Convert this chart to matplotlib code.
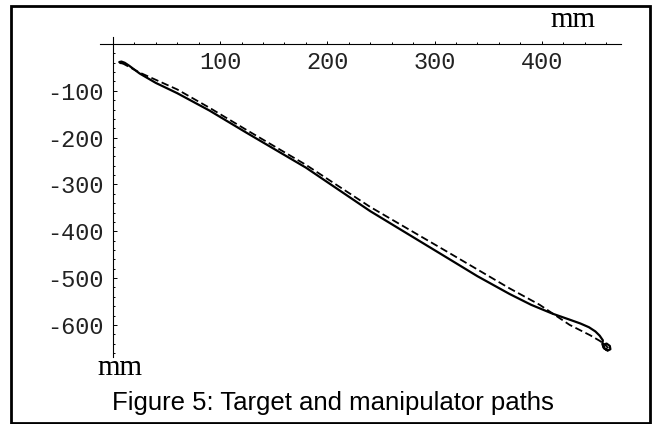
import numpy as np
import matplotlib.pyplot as plt
from matplotlib.patches import Rectangle

plt.rcParams['axes.unicode_minus'] = False

# target path (dashed), mm
target_x = [8, 25, 60, 90, 125, 180, 240, 312, 370, 398, 426, 445, 454, 459, 462]
target_y = [-40, -61, -97, -136, -184, -258, -348, -444, -522, -557, -600, -622, -634, -642, -650]

# manipulator path (solid), mm
path_x = [9, 7, 6, 8, 11, 15, 25, 40, 60, 90, 125, 180, 240, 312, 340, 370, 390, 410, 425,
          436, 444, 450, 454, 457, 456.5, 458, 461.5, 464, 463.5, 460.5, 457.5, 458, 461]
path_y = [-41, -40.5, -38.5, -37.5, -40, -46, -63, -83, -105, -142, -190, -264, -357, -457,
          -496, -534, -557, -576, -588, -597, -605, -614, -623, -633, -641, -650, -655, -652,
          -645, -640, -642, -649, -654]

x_major = [100, 200, 300, 400]
y_major = [-100, -200, -300, -400, -500, -600]
x_minor = np.arange(20, 461, 20)
y_minor = np.arange(-20, -661, -20)

fig = plt.figure(figsize=(6.57, 4.24), dpi=100)
ax = fig.add_axes([0.1522, 0.1587, 0.7925, 0.7547])
ax.patch.set_visible(False)

ax.plot(path_x, path_y, color='black', lw=1.6, solid_joinstyle='round', solid_capstyle='round')
ax.plot(target_x, target_y, color='black', lw=1.3, dashes=(4.2, 2.0))

ax.set_xlim(-12, 473.6)
ax.set_ylim(-668, 15.6)

ax.spines['right'].set_visible(False)
ax.spines['bottom'].set_position(('data', 0))
ax.spines['bottom'].set_color('none')
ax.spines['top'].set_position(('data', 0))
ax.spines['left'].set_position(('data', 0))
for s in ('top', 'left'):
    ax.spines[s].set_linewidth(0.8)

ax.set_xticks(x_major)
ax.set_xticks(x_minor, minor=True)
ax.set_yticks(y_major)
ax.set_yticks(y_minor, minor=True)

mono = 'Liberation Mono'
ax.xaxis.set_ticks_position('both')
ax.tick_params(axis='x', which='both', bottom=False, top=True, labelbottom=True,
               labeltop=False, direction='out', width=0.7)
ax.tick_params(axis='x', which='major', length=2.5, pad=2.5, labelsize=17)
ax.tick_params(axis='x', which='minor', length=1.2)
ax.tick_params(axis='y', which='both', left=True, right=False, direction='in', width=0.7)
ax.tick_params(axis='y', which='major', length=3, pad=7, labelsize=17)
ax.tick_params(axis='y', which='minor', length=1.5)
for lab in ax.get_xticklabels() + ax.get_yticklabels():
    lab.set_family(mono)
    lab.set_color('#222222')

fig.text(573 / 657, 1 - 27 / 424, 'mm', ha='center', va='baseline',
         family='Liberation Serif', size=21)
fig.text(120 / 657, 1 - 375 / 424, 'mm', ha='center', va='baseline',
         family='Liberation Serif', size=21)
fig.text(332.5 / 657, 1 - 410 / 424, 'Figure 5: Target and manipulator paths',
         ha='center', va='baseline', family='Liberation Sans', size=18.5)

fig.patches.append(Rectangle((11.3 / 657, 1 - 422.5 / 424), (650 - 11.3) / 657,
                             (422.5 - 6.2) / 424, transform=fig.transFigure,
                             fill=False, edgecolor='black', lw=2))

fig.savefig('out.png', dpi=100)
